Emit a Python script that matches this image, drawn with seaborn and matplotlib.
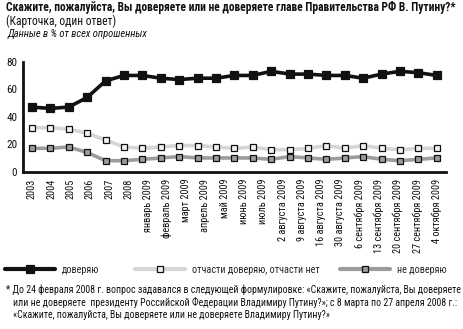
import matplotlib
matplotlib.use("Agg")
import matplotlib.pyplot as plt
from matplotlib.lines import Line2D
import numpy as np
import pandas as pd
import seaborn as sns

sns.set_theme(style="white")
plt.rcParams["font.family"] = ["Roboto Condensed", "PT Sans Narrow",
                               "Liberation Sans", "DejaVu Sans"]

# Axis captions, spread evenly along the time axis
periods = ["2003", "2004", "2005", "2006", "2007", "2008",
           "январь 2009", "февраль 2009", "март 2009", "апрель 2009", "май 2009",
           "июнь 2009", "июль 2009", "2 августа 2009", "9 августа 2009",
           "16 августа 2009", "30 августа 2009", "6 сентября 2009",
           "13 сентября 2009", "20 сентября 2009", "27 сентября 2009",
           "4 октября 2009"]

# Survey waves, % of respondents
trust = [47, 46, 47, 54, 66, 70, 70, 68, 67, 68, 68, 70, 70, 73, 71, 71,
         70, 70, 68, 71, 73, 72, 70]
partly = [32, 32, 31, 28, 23, 18, 17, 18, 19, 19, 18, 17, 18, 16, 16, 17,
          19, 17, 19, 17, 16, 17, 17]
distrust = [17, 17, 18, 14, 8, 8, 9, 10, 11, 10, 10, 10, 10, 9, 11, 10,
            9, 10, 11, 9, 8, 9, 10]

series_names = ["доверяю", "отчасти доверяю, отчасти нет", "не доверяю"]

n = len(trust)
df = pd.DataFrame({
    "pos": list(range(n)) * 3,
    "value": trust + partly + distrust,
    "series": sum([[s] * n for s in series_names], []),
})

styles = {
    "доверяю": dict(line="#111111", face="#111111", lw=2.6, ms=5.2),
    "отчасти доверяю, отчасти нет": dict(line="#d6d6d6", face="#f2f2f2", lw=2.6, ms=4.6),
    "не доверяю": dict(line="#9c9c9c", face="#9c9c9c", lw=2.6, ms=4.6),
}
INK = "#111111"

fig = plt.figure(figsize=(4.64, 3.29), dpi=100)
ax = fig.add_axes([22.7 / 464, 1 - 171.7 / 329, (446 - 22.7) / 464, 110 / 329])

for name in series_names[::-1]:
    st = styles[name]
    sns.lineplot(data=df[df["series"] == name], x="pos", y="value", ax=ax,
                 color=st["line"], linewidth=st["lw"], marker="s",
                 markersize=st["ms"], markerfacecolor=st["face"],
                 markeredgecolor=INK, markeredgewidth=0.9,
                 legend=False, sort=False)

ax.set_xlim(-0.5, n - 0.5)
ax.set_ylim(0, 80)
ax.set_xlabel("")
ax.set_ylabel("")
ax.set_yticks([0, 20, 40, 60, 80])
ax.tick_params(axis="y", direction="out", length=3, width=1.5, labelsize=8,
               pad=1, colors=INK)
ax.set_xticks(np.linspace(0, n - 1, len(periods)))
ax.set_xticklabels(periods, rotation=90, fontsize=7.4)
ax.tick_params(axis="x", which="major", length=0, pad=5, labelcolor=INK)
ax.set_xticks(np.arange(-0.5, n, 1.0)[1:], minor=True)
ax.tick_params(axis="x", which="minor", direction="in", length=3.5, width=1.5,
               color=INK)
for side in ("top", "right"):
    ax.spines[side].set_visible(False)
for side in ("left", "bottom"):
    ax.spines[side].set_linewidth(2)
    ax.spines[side].set_color(INK)

# Header
fig.text(6 / 464, 1 - 7 / 329,
         "Скажите, пожалуйста, Вы доверяете или не доверяете главе Правительства РФ В. Путину?*",
         fontsize=8.3, fontweight="bold", va="center", ha="left", color=INK)
fig.text(6 / 464, 1 - 21 / 329, "(Карточка, один ответ)", fontsize=8.3,
         va="center", ha="left", color=INK)
fig.text(8 / 464, 1 - 34 / 329, "Данные в % от всех опрошенных", fontsize=7.6,
         style="italic", va="center", ha="left", color=INK)

# Legend, one entry per series
legend_x = [5, 135, 340]
for name, x0 in zip(series_names, legend_x):
    st = styles[name]
    h = Line2D([0], [0], color=st["line"], lw=st["lw"] + 0.4, marker="s",
               markersize=st["ms"], markerfacecolor=st["face"],
               markeredgecolor=INK, markeredgewidth=0.9)
    fig.legend([h], [name], loc="center left",
               bbox_to_anchor=(x0 / 464, 1 - 270 / 329), frameon=False,
               fontsize=7.3, handlelength=4.9, handletextpad=0.7,
               borderpad=0, borderaxespad=0)

# Footnote
notes = [
    "* До 24 февраля 2008 г. вопрос задавался в следующей формулировке: «Скажите, пожалуйста, Вы доверяете",
    "или не доверяете  президенту Российской Федерации Владимиру Путину?»; с 8 марта по 27 апреля 2008 г.:",
    "«Скажите, пожалуйста, Вы доверяете или не доверяете Владимиру Путину?»",
]
for i, line in enumerate(notes):
    fig.text((6 if i == 0 else 13) / 464, 1 - (290 + 12.5 * i) / 329, line,
             fontsize=7.1, va="center", ha="left", color=INK)

fig.savefig("out.png", dpi=100, facecolor="white")
